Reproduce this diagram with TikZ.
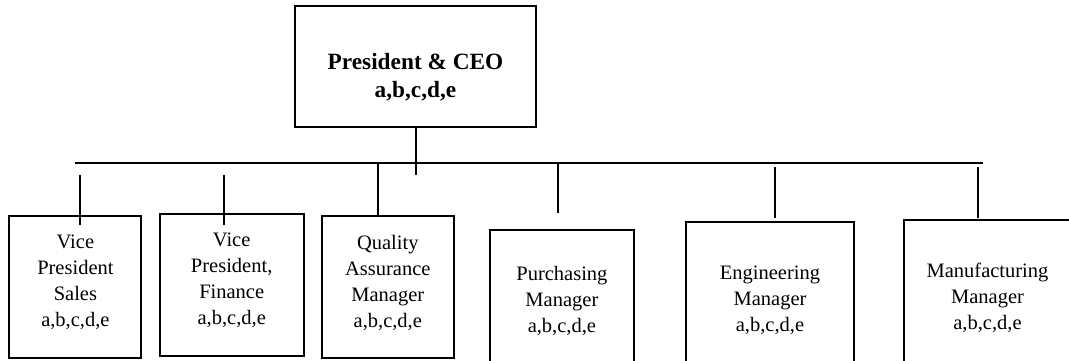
\documentclass[tikz,border=0pt]{standalone}
\usepackage{fontspec}
\setmainfont{Liberation Serif}
\begin{document}
\begin{tikzpicture}[x=1pt,y=-1pt,
  box/.style={draw, line width=2pt, rectangle, inner sep=0pt, outer sep=0pt},
  txt/.style={align=center, inner sep=0pt, font=\fontsize{20.5}{26}\selectfont},
  ceotxt/.style={align=center, inner sep=0pt, font=\fontsize{23.3}{28}\selectfont\bfseries},
  conn/.style={line width=2pt}]
\useasboundingbox (0,0) rectangle (1069,360);
\clip (0,0) rectangle (1069,360);
% top box
\node[box, minimum width=241pt, minimum height=121pt] (ceo) at (415.5,66.5) {};
\node[ceotxt] (ceot) at (415.5,77) {President \& CEO\\a,b,c,d,e};
% subordinate boxes
\node[box, minimum width=132pt, minimum height=142pt] (vps) at (75,287) {};
\node[box, minimum width=144pt, minimum height=142pt] (vpf) at (232,285) {};
\node[box, minimum width=132pt, minimum height=142pt] (qam) at (388,287) {};
\node[box, minimum width=144pt, minimum height=160pt] (pm) at (562,310) {};
\node[box, minimum width=168pt, minimum height=160pt] (em) at (770,302) {};
\node[box, minimum width=180pt, minimum height=160pt] (mm) at (994,300) {};
% texts
\node[txt] (vpst) at (75.4,282.6) {Vice\\President\\Sales\\a,b,c,d,e};
\node[txt] (vpft) at (231.7,280.6) {Vice\\President,\\Finance\\a,b,c,d,e};
\node[txt] (qamt) at (387.8,282.6) {Quality\\Assurance\\Manager\\a,b,c,d,e};
\node[txt] (pmt) at (561.9,300.5) {Purchasing\\Manager\\a,b,c,d,e};
\node[txt] (emt) at (770,300.5) {Engineering\\Manager\\a,b,c,d,e};
\node[txt] (mmt) at (987.5,298) {Manufacturing\\Manager\\a,b,c,d,e};
% bus line
\coordinate (busL) at (75,163);
\coordinate (busR) at (983,163);
\draw[conn] (busL) -- (busR);
% CEO drop
\coordinate (ceoEnd) at (416,175);
\draw[conn] (ceo.south -| ceoEnd) -- (ceoEnd);
% connectors
\coordinate (c1a) at (80,175);   \coordinate (c1b) at (80,225);
\coordinate (c2a) at (224,175);  \coordinate (c2b) at (224,225);
\coordinate (c3a) at (378,163);  \coordinate (c3b) at (378,216);
\coordinate (c4a) at (558,163);  \coordinate (c4b) at (558,213);
\coordinate (c5a) at (775,167);  \coordinate (c5b) at (775,218);
\coordinate (c6a) at (978,167);  \coordinate (c6b) at (978,218);
\draw[conn] (c1a) -- (c1b);
\draw[conn] (c2a) -- (c2b);
\draw[conn] (c3a) -- (c3b);
\draw[conn] (c4a) -- (c4b);
\draw[conn] (c5a) -- (c5b);
\draw[conn] (c6a) -- (c6b);
\end{tikzpicture}
\end{document}
